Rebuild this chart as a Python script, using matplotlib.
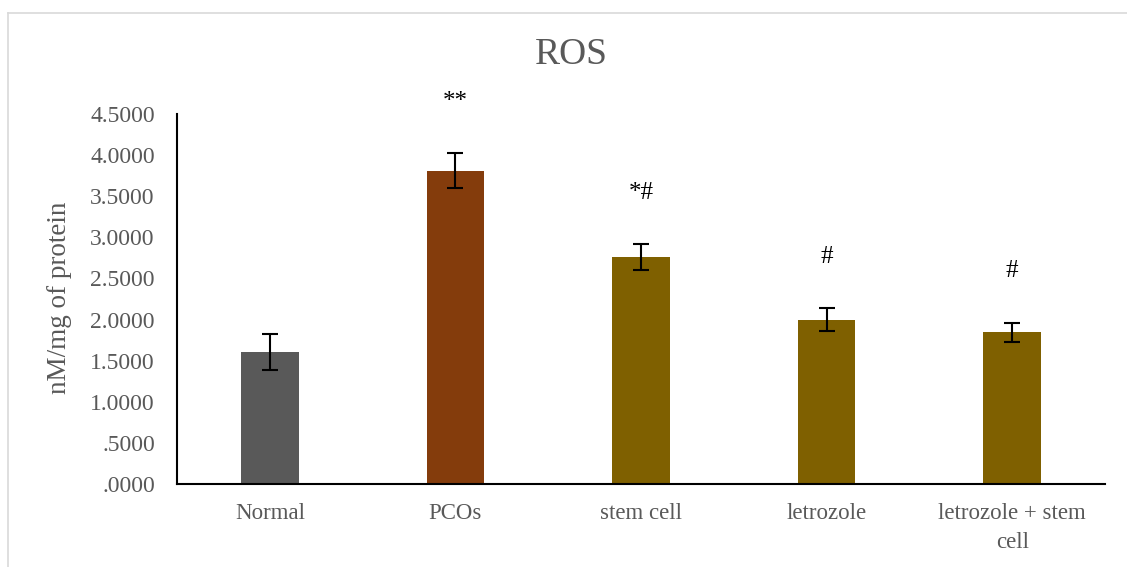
import matplotlib
matplotlib.use("Agg")
import matplotlib.pyplot as plt
from matplotlib.lines import Line2D

categories = ["Normal", "PCOs", "stem cell", "letrozole", "letrozole + stem\ncell"]
means = [1.61, 3.81, 2.76, 2.00, 1.845]
errors = [0.22, 0.21, 0.16, 0.14, 0.115]
significance = ["", "**", "*#", "#", "#"]
colors = ["#595959", "#843C0C", "#7F6000", "#7F6000", "#7F6000"]
yticks = [0.0, 0.5, 1.0, 1.5, 2.0, 2.5, 3.0, 3.5, 4.0, 4.5]
ytick_labels = [".0000", ".5000", "1.0000", "1.5000", "2.0000", "2.5000",
                "3.0000", "3.5000", "4.0000", "4.5000"]

plt.rcParams['font.family'] = ['Liberation Serif', 'DejaVu Serif']
gray = "#595959"

fig = plt.figure(figsize=(11.27, 5.67), dpi=100)
ax = fig.add_axes([177/1127, 1-484/567, (1105-177)/1127, (484-114)/567])

x = list(range(len(categories)))
ax.bar(x, means, width=0.31, color=colors, zorder=2)
ax.errorbar(x, means, yerr=errors, fmt='none', ecolor='black',
            elinewidth=1.5, capsize=6, capthick=1.5, zorder=3)

for xi, m, e, s in zip(x, means, errors, significance):
    if s:
        ax.annotate(s, xy=(xi, m + e), xytext=(0, 37), textcoords='offset points',
                    ha='center', va='center', fontsize=18, color='black',
                    annotation_clip=False)

ax.set_xlim(-0.5, len(categories) - 0.5)
ax.set_ylim(0, 4.5)
ax.set_yticks(yticks)
ax.set_yticklabels(ytick_labels)
ax.set_xticks(x)
ax.set_xticklabels(categories, linespacing=1.45)
ax.tick_params(axis='y', length=0, pad=16, labelsize=17, labelcolor=gray)
ax.tick_params(axis='x', length=0, pad=14, labelsize=16.5, labelcolor=gray)
for side in ['top', 'right']:
    ax.spines[side].set_visible(False)
for side in ['left', 'bottom']:
    ax.spines[side].set_color('black')
    ax.spines[side].set_linewidth(1.5)

fig.text(571/1127, 1-55/567, "ROS", ha='center', va='center', fontsize=27, color=gray)
fig.text(59/1127, 1-298/567, "nM/mg of protein", ha='center', va='center',
         rotation=90, fontsize=19.5, color=gray)

# chart frame
fig.add_artist(Line2D([8/1127, 8/1127], [0, 1-13/567], transform=fig.transFigure,
                      color="#D9D9D9", linewidth=1.2))
fig.add_artist(Line2D([8/1127, 1], [1-13/567, 1-13/567], transform=fig.transFigure,
                      color="#D9D9D9", linewidth=1.2))

fig.savefig("out.png", dpi=100)
